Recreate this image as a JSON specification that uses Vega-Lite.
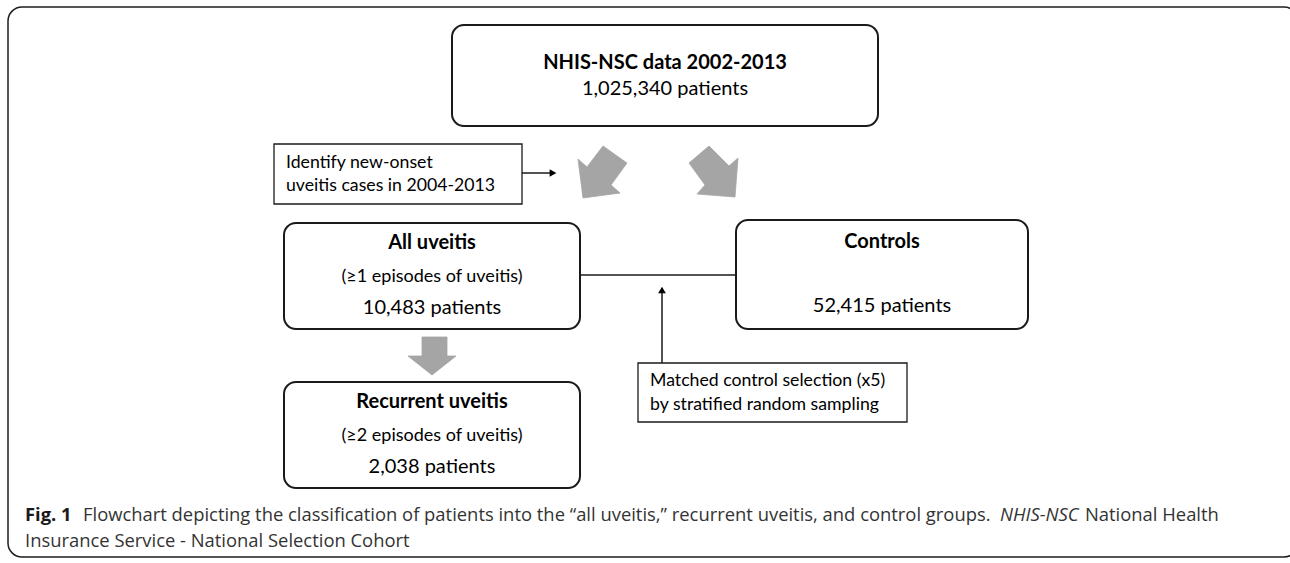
{
  "$schema": "https://vega.github.io/schema/vega-lite/v6.json",
  "width": 1290,
  "height": 563,
  "autosize": {"type": "fit", "contains": "padding"},
  "padding": 0,
  "background": "white",
  "config": {"view": {"stroke": null}},
  "datasets": {
    "frame": [{"x": 8, "x2": 1298, "y": 7, "y2": 557}],
    "rounded": [
      {"box": "NHIS-NSC", "x": 452, "x2": 878, "y": 25, "y2": 126},
      {"box": "All uveitis", "x": 284, "x2": 580, "y": 223, "y2": 329},
      {"box": "Controls", "x": 736, "x2": 1028, "y": 220, "y2": 329},
      {"box": "Recurrent uveitis", "x": 284, "x2": 580, "y": 382, "y2": 488}
    ],
    "square": [
      {"box": "Identify", "x": 274, "x2": 522, "y": 144, "y2": 204},
      {"box": "Matched", "x": 638, "x2": 907, "y": 363, "y2": 422}
    ],
    "links": [
      {"link": "match", "x": 580, "x2": 736, "y": 275, "y2": 275},
      {"link": "identify", "x": 522, "x2": 551, "y": 173, "y2": 173},
      {"link": "selection", "x": 662, "x2": 662, "y": 363, "y2": 293}
    ],
    "heads": [
      {"head": "identify", "dir": "right", "x": 553, "y": 173},
      {"head": "selection", "dir": "up", "x": 662, "y": 290}
    ],
    "blocks": [
      {"arrow": "down-left", "i": 1, "x": 603, "y": 146},
      {"arrow": "down-left", "i": 2, "x": 627, "y": 163},
      {"arrow": "down-left", "i": 3, "x": 611, "y": 185},
      {"arrow": "down-left", "i": 4, "x": 620, "y": 193},
      {"arrow": "down-left", "i": 5, "x": 583, "y": 198},
      {"arrow": "down-left", "i": 6, "x": 578, "y": 159},
      {"arrow": "down-left", "i": 7, "x": 587, "y": 167},
      {"arrow": "down-left", "i": 8, "x": 603, "y": 146},
      {"arrow": "down-right", "i": 1, "x": 709, "y": 146},
      {"arrow": "down-right", "i": 2, "x": 689, "y": 163},
      {"arrow": "down-right", "i": 3, "x": 705, "y": 185},
      {"arrow": "down-right", "i": 4, "x": 697, "y": 194},
      {"arrow": "down-right", "i": 5, "x": 735, "y": 197},
      {"arrow": "down-right", "i": 6, "x": 738, "y": 158},
      {"arrow": "down-right", "i": 7, "x": 729, "y": 166},
      {"arrow": "down-right", "i": 8, "x": 709, "y": 146},
      {"arrow": "down", "i": 1, "x": 422, "y": 337},
      {"arrow": "down", "i": 2, "x": 447, "y": 337},
      {"arrow": "down", "i": 3, "x": 447, "y": 356},
      {"arrow": "down", "i": 4, "x": 456, "y": 356},
      {"arrow": "down", "i": 5, "x": 432, "y": 375},
      {"arrow": "down", "i": 6, "x": 408, "y": 356},
      {"arrow": "down", "i": 7, "x": 422, "y": 356},
      {"arrow": "down", "i": 8, "x": 422, "y": 337}
    ],
    "labels": [
      {"t": "NHIS-NSC data 2002-2013", "x": 665, "y": 63, "k": "bold"},
      {"t": "1,025,340 patients", "x": 665, "y": 89, "k": "reg"},
      {"t": "All uveitis", "x": 432, "y": 243, "k": "bold"},
      {"t": "(≥1 episodes of uveitis)", "x": 432, "y": 277, "k": "small"},
      {"t": "10,483 patients", "x": 432, "y": 308, "k": "reg"},
      {"t": "Controls", "x": 882, "y": 242, "k": "bold"},
      {"t": "52,415 patients", "x": 882, "y": 306, "k": "reg"},
      {"t": "Recurrent uveitis", "x": 432, "y": 402, "k": "bold"},
      {"t": "(≥2 episodes of uveitis)", "x": 432, "y": 436, "k": "small"},
      {"t": "2,038 patients", "x": 432, "y": 467, "k": "reg"},
      {"t": "Identify new-onset", "x": 286, "y": 163, "k": "note"},
      {"t": "uveitis cases in 2004-2013", "x": 286, "y": 186, "k": "note"},
      {"t": "Matched control selection (x5)", "x": 650, "y": 381, "k": "note"},
      {"t": "by stratified random sampling", "x": 650, "y": 405, "k": "note"}
    ],
    "caption": [
      {"t": "Fig. 1", "x": 25, "y": 521, "k": "capb"},
      {"t": "Flowchart depicting the classification of patients into the “all uveitis,” recurrent uveitis, and control groups.", "x": 83, "y": 521, "k": "cap"},
      {"t": "NHIS-NSC", "x": 1000, "y": 521, "k": "capi"},
      {"t": "National Health", "x": 1085, "y": 521, "k": "cap"},
      {"t": "Insurance Service - National Selection Cohort", "x": 25, "y": 547, "k": "cap"}
    ]
  },
  "layer": [
    {
      "data": {"name": "frame"},
      "mark": {"type": "rect", "filled": false, "stroke": "#1e1e1e", "strokeWidth": 1.5, "cornerRadius": 14, "clip": true},
      "encoding": {
        "x": {"field": "x", "type": "quantitative", "scale": {"domain": [0, 1290], "nice": false, "zero": false}, "axis": null},
        "x2": {"field": "x2"},
        "y": {"field": "y", "type": "quantitative", "scale": {"domain": [0, 563], "nice": false, "zero": false, "reverse": true}, "axis": null},
        "y2": {"field": "y2"}
      }
    },
    {
      "data": {"name": "rounded"},
      "mark": {"type": "rect", "filled": false, "stroke": "#1a1a1a", "strokeWidth": 2, "cornerRadius": 12},
      "encoding": {
        "x": {"field": "x", "type": "quantitative", "axis": null},
        "x2": {"field": "x2"},
        "y": {"field": "y", "type": "quantitative", "axis": null},
        "y2": {"field": "y2"}
      }
    },
    {
      "data": {"name": "square"},
      "mark": {"type": "rect", "filled": false, "stroke": "#1a1a1a", "strokeWidth": 1.3},
      "encoding": {
        "x": {"field": "x", "type": "quantitative", "axis": null},
        "x2": {"field": "x2"},
        "y": {"field": "y", "type": "quantitative", "axis": null},
        "y2": {"field": "y2"}
      }
    },
    {
      "data": {"name": "links"},
      "mark": {"type": "rule", "stroke": "#1a1a1a", "strokeWidth": 1.5},
      "encoding": {
        "x": {"field": "x", "type": "quantitative", "axis": null},
        "x2": {"field": "x2"},
        "y": {"field": "y", "type": "quantitative", "axis": null},
        "y2": {"field": "y2"}
      }
    },
    {
      "data": {"name": "heads"},
      "transform": [{"filter": "datum.dir === 'right'"}],
      "mark": {"type": "point", "shape": "triangle-right", "filled": true, "color": "#000", "size": 60, "opacity": 1},
      "encoding": {
        "x": {"field": "x", "type": "quantitative", "axis": null},
        "y": {"field": "y", "type": "quantitative", "axis": null}
      }
    },
    {
      "data": {"name": "heads"},
      "transform": [{"filter": "datum.dir === 'up'"}],
      "mark": {"type": "point", "shape": "triangle-up", "filled": true, "color": "#000", "size": 60, "opacity": 1},
      "encoding": {
        "x": {"field": "x", "type": "quantitative", "axis": null},
        "y": {"field": "y", "type": "quantitative", "axis": null}
      }
    },
    {
      "data": {"name": "blocks"},
      "mark": {"type": "line", "fill": "#a5a5a5", "stroke": "#a5a5a5", "strokeWidth": 0.8, "interpolate": "linear"},
      "encoding": {
        "x": {"field": "x", "type": "quantitative", "axis": null},
        "y": {"field": "y", "type": "quantitative", "axis": null},
        "detail": {"field": "arrow", "type": "nominal"},
        "order": {"field": "i", "type": "quantitative"}
      }
    },
    {
      "data": {"name": "labels"},
      "transform": [{"filter": "datum.k === 'bold'"}],
      "mark": {"type": "text", "font": "Lato", "fontWeight": "bold", "fontSize": 20, "align": "center", "baseline": "middle", "color": "#000"},
      "encoding": {
        "x": {"field": "x", "type": "quantitative", "axis": null},
        "y": {"field": "y", "type": "quantitative", "axis": null},
        "text": {"field": "t"}
      }
    },
    {
      "data": {"name": "labels"},
      "transform": [{"filter": "datum.k === 'reg'"}],
      "mark": {"type": "text", "font": "Lato", "fontSize": 20, "align": "center", "baseline": "middle", "color": "#000"},
      "encoding": {
        "x": {"field": "x", "type": "quantitative", "axis": null},
        "y": {"field": "y", "type": "quantitative", "axis": null},
        "text": {"field": "t"}
      }
    },
    {
      "data": {"name": "labels"},
      "transform": [{"filter": "datum.k === 'small'"}],
      "mark": {"type": "text", "font": "Lato", "fontSize": 18, "align": "center", "baseline": "middle", "color": "#000"},
      "encoding": {
        "x": {"field": "x", "type": "quantitative", "axis": null},
        "y": {"field": "y", "type": "quantitative", "axis": null},
        "text": {"field": "t"}
      }
    },
    {
      "data": {"name": "labels"},
      "transform": [{"filter": "datum.k === 'note'"}],
      "mark": {"type": "text", "font": "Lato", "fontSize": 17.7, "align": "left", "baseline": "middle", "color": "#000"},
      "encoding": {
        "x": {"field": "x", "type": "quantitative", "axis": null},
        "y": {"field": "y", "type": "quantitative", "axis": null},
        "text": {"field": "t"}
      }
    },
    {
      "data": {"name": "caption"},
      "transform": [{"filter": "datum.k === 'capb'"}],
      "mark": {"type": "text", "font": "Open Sans", "fontWeight": "bold", "fontSize": 18.4, "align": "left", "baseline": "alphabetic", "color": "#1a1a1a"},
      "encoding": {
        "x": {"field": "x", "type": "quantitative", "axis": null},
        "y": {"field": "y", "type": "quantitative", "axis": null},
        "text": {"field": "t"}
      }
    },
    {
      "data": {"name": "caption"},
      "transform": [{"filter": "datum.k === 'cap'"}],
      "mark": {"type": "text", "font": "Open Sans", "fontSize": 18.4, "align": "left", "baseline": "alphabetic", "color": "#333"},
      "encoding": {
        "x": {"field": "x", "type": "quantitative", "axis": null},
        "y": {"field": "y", "type": "quantitative", "axis": null},
        "text": {"field": "t"}
      }
    },
    {
      "data": {"name": "caption"},
      "transform": [{"filter": "datum.k === 'capi'"}],
      "mark": {"type": "text", "font": "Open Sans", "fontStyle": "italic", "fontSize": 18.4, "align": "left", "baseline": "alphabetic", "color": "#333"},
      "encoding": {
        "x": {"field": "x", "type": "quantitative", "axis": null},
        "y": {"field": "y", "type": "quantitative", "axis": null},
        "text": {"field": "t"}
      }
    }
  ]
}
